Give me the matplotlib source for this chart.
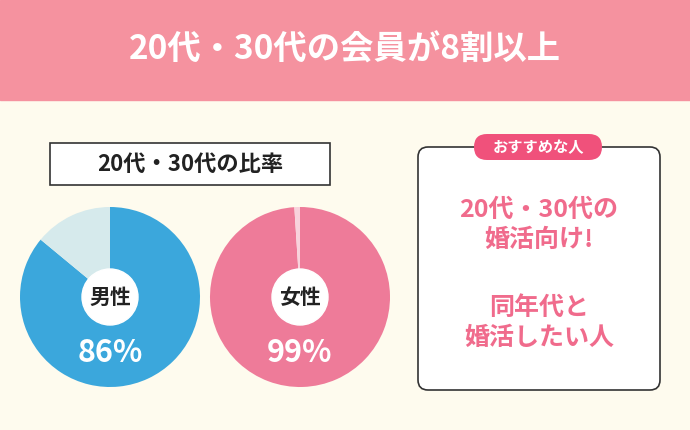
import matplotlib.pyplot as plt
from matplotlib.patches import Rectangle, FancyBboxPatch, Circle

plt.rcParams['font.family'] = ['Noto Sans CJK JP', 'DejaVu Sans']

title = "20代・30代の会員が8割以上"
box_label = "20代・30代の比率"
genders = ["男性", "女性"]
shares = [86, 99]
main_colors = ["#3BA7DC", "#EE7B99"]
rest_colors = ["#D6EAEC", "#F8D2DC"]
tag = "おすすめな人"
recommend = ["20代・30代の\n婚活向け!", "同年代と\n婚活したい人"]

fig = plt.figure(figsize=(6.9, 4.3), dpi=100)
fig.patch.set_facecolor("#FEFBEE")
ax = fig.add_axes([0, 0, 1, 1])
ax.set_xlim(0, 690)
ax.set_ylim(430, 0)
ax.axis("off")

# header
ax.add_patch(Rectangle((0, 0), 690, 100, color="#F5929F"))
ax.text(345, 50, title, color="white", fontsize=24, fontweight="bold",
        ha="center", va="center")

# label box
ax.add_patch(Rectangle((50, 143), 280, 42, facecolor="white", edgecolor="#333333", lw=1.2))
ax.text(190, 164, box_label, fontsize=16, fontweight="bold", ha="center", va="center",
        color="#222222")

# pies (y axis is inverted, so angles run mirrored)
centers = [(110, 297), (300, 297)]
for (cx, cy), g, s, mc, rc in zip(centers, genders, shares, main_colors, rest_colors):
    ax.pie([s, 100 - s], colors=[mc, rc], startangle=-90, counterclock=True,
           center=(cx, cy), radius=90, frame=True)
    ax.add_patch(Circle((cx, cy), 28, color="white", zorder=3))
    ax.text(cx, cy, g, fontsize=15, fontweight="bold", ha="center", va="center",
            zorder=4, color="#222222")
    ax.text(cx, cy + 56, f"{s}%", fontsize=22, fontweight="bold", ha="center",
            va="center", color="white", zorder=4)
ax.set_xlim(0, 690)
ax.set_ylim(430, 0)
ax.axis("off")

# recommendation box
ax.add_patch(FancyBboxPatch((418, 147), 242, 243, boxstyle="round,pad=0,rounding_size=10",
                            facecolor="white", edgecolor="#333333", lw=1.2))
ax.add_patch(FancyBboxPatch((474, 134), 128, 26, boxstyle="round,pad=0,rounding_size=13",
                            facecolor="#F0517B", edgecolor="none"))
ax.text(538, 147, tag, fontsize=11, fontweight="bold", color="white",
        ha="center", va="center")
for y, t in zip([225, 323], recommend):
    ax.text(539, y, t, fontsize=18, fontweight="bold", color="#F06B8C",
            ha="center", va="center", linespacing=1.35)

fig.savefig("out.png", dpi=100, facecolor=fig.get_facecolor())
